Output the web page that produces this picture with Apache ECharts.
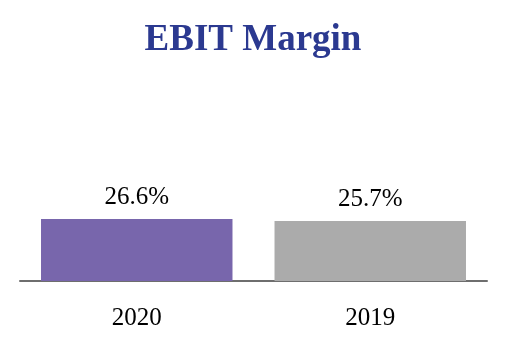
<!DOCTYPE html>
<html>
<head>
<meta charset="utf-8">
<script src="https://cdn.jsdelivr.net/npm/echarts@6/dist/echarts.min.js"></script>
<style>html,body{margin:0;padding:0;background:#fff}#c{width:506px;height:346px}</style>
</head>
<body>
<div id="c"></div>
<script>
const categories = ['2020', '2019'];
const values = [26.6, 25.7];
const barColors = ['#7866AC', '#ABABAB'];

const chart = echarts.init(document.getElementById('c'), null, {renderer: 'canvas'});
chart.setOption({
  animation: false,
  title: {
    text: 'EBIT Margin',
    left: 'center',
    top: 17,
    textStyle: {fontFamily: 'Liberation Serif', fontWeight: 'bold', fontSize: 37, color: '#2B3990'}
  },
  grid: {left: 20, right: 19, top: 48, bottom: 65},
  xAxis: {
    type: 'category',
    data: categories,
    axisLine: {lineStyle: {color: '#6E6E6E', width: 2}},
    axisTick: {show: false},
    axisLabel: {fontFamily: 'Liberation Serif', fontSize: 25, color: '#000', margin: 25}
  },
  yAxis: {type: 'value', min: 0, max: 100, show: false, splitLine: {show: false}},
  series: [{
    type: 'bar',
    barCategoryGap: '18%',
    data: values.map((v, i) => ({value: v, itemStyle: {color: barColors[i]}})),
    label: {
      show: true,
      position: 'top',
      distance: 9,
      formatter: p => p.value.toFixed(1) + '%',
      fontFamily: 'Liberation Serif',
      fontSize: 25,
      color: '#000'
    }
  }]
});
</script>
</body>
</html>
